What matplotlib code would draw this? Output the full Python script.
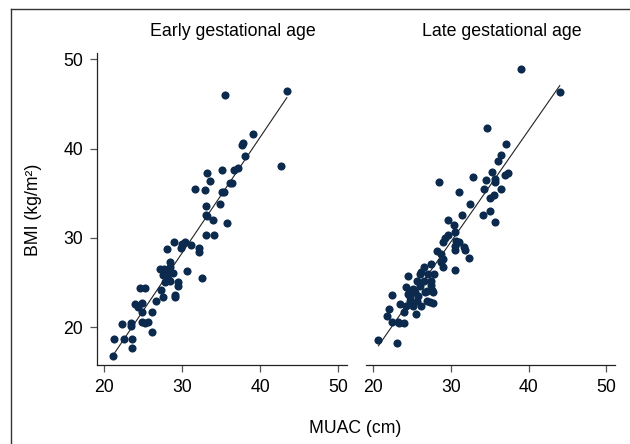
import numpy as np
import matplotlib
matplotlib.use("Agg")
import matplotlib.pyplot as plt
from matplotlib.lines import Line2D

plt.rcParams["font.family"] = ["Liberation Sans", "DejaVu Sans"]

# early gestational age: MUAC (cm), BMI (kg/m2)
early_muac = [35.5, 43.4, 39.1, 37.8, 37.7, 38.1, 42.6, 35.1, 36.6, 37.1,
              33.2, 33.5, 36.1, 36.4, 31.7, 32.9, 35.1, 35.4, 33.1, 34.9,
              33.1, 33.2, 34.0, 35.8, 33.0, 34.1, 29.0, 30.4, 30.0, 29.8,
              31.1, 28.1, 32.2, 32.1, 28.5, 27.2, 27.7, 28.5, 28.8, 28.0,
              27.5, 28.2, 27.8, 28.5, 30.6, 29.5, 29.5, 32.6, 27.3, 24.6,
              25.3, 29.1, 29.1, 27.6, 26.6, 23.9, 24.8, 24.4, 24.9, 26.1,
              22.3, 23.5, 23.5, 24.8, 25.2, 25.6, 26.1, 21.3, 22.6, 23.6,
              23.6, 21.1]
early_bmi = [46.0, 46.4, 41.6, 40.6, 40.4, 39.2, 38.1, 37.6, 37.6, 37.85,
             37.3, 36.4, 36.2, 36.1, 35.5, 35.4, 35.2, 35.2, 33.6, 33.8,
             32.6, 32.5, 32.05, 31.7, 30.3, 30.3, 29.5, 29.6, 29.3, 28.85,
             29.2, 28.8, 28.85, 28.4, 27.3, 26.5, 26.5, 26.8, 26.1, 26.0,
             25.8, 25.4, 25.1, 25.2, 26.3, 25.1, 24.65, 25.5, 24.2, 24.4,
             24.4, 23.6, 23.35, 23.35, 23.0, 22.6, 22.7, 22.3, 21.7, 21.7,
             20.4, 20.5, 20.2, 20.6, 20.5, 20.6, 19.5, 18.7, 18.7, 18.7,
             17.7, 16.8]

# late gestational age
late_muac = [39.0, 44.0, 34.65, 37.1, 36.5, 36.1, 35.3, 32.8, 34.5, 35.7,
             35.7, 37.0, 37.3, 28.5, 34.3, 36.5, 31.1, 35.5, 35.0, 32.5,
             31.5, 34.2, 35.0, 35.7, 29.6, 30.4, 30.5, 29.7, 29.3, 29.0,
             30.7, 31.0, 30.6, 30.6, 31.7, 28.2, 28.8, 29.0, 28.8, 29.0,
             32.3, 30.5, 27.4, 26.5, 26.2, 26.0, 27.1, 27.9, 24.5, 25.6,
             26.6, 27.5, 27.5, 27.6, 24.3, 24.7, 25.4, 24.5, 25.8, 26.7,
             27.0, 26.9, 27.3, 23.5, 24.7, 24.3, 25.2, 26.2, 24.0, 25.5,
             22.4, 22.05, 21.8, 22.4, 23.4, 24.0, 20.7, 23.1, 26.0, 27.7,
             24.7, 25.6, 27.65, 25.2, 23.2, 31.8]
late_bmi = [48.9, 46.3, 42.3, 40.5, 39.25, 38.6, 37.4, 36.8, 36.5, 36.6,
            36.25, 37.1, 37.3, 36.3, 35.5, 35.5, 35.1, 34.8, 34.5, 33.8,
            32.6, 32.6, 33.0, 31.75, 32.05, 31.45, 30.7, 30.3, 30.0, 29.5,
            29.7, 29.6, 29.1, 28.6, 29.0, 28.55, 28.2, 27.7, 27.3, 26.7,
            27.8, 26.4, 27.1, 26.8, 26.15, 25.95, 25.95, 25.95, 25.7, 25.2,
            25.2, 25.2, 24.7, 24.2, 24.5, 24.1, 24.0, 23.7, 23.5, 23.9,
            24.1, 23.0, 22.8, 22.6, 22.9, 22.4, 22.4, 22.4, 21.7, 21.5,
            23.6, 22.0, 21.3, 20.6, 20.5, 20.5, 18.55, 18.2, 24.65, 23.9,
            23.4, 23.0, 22.7, 24.3, 20.55, 28.7]

titles = ["Early gestational age", "Late gestational age"]
xticks = [20, 30, 40, 50]
yticks = [20, 30, 40, 50]

W, H = 630, 444
fig = plt.figure(figsize=(W / 100, H / 100), dpi=100)

def px_box(x0, y0, x1, y1):
    return [x0 / W, 1 - y1 / H, (x1 - x0) / W, (y1 - y0) / H]

ax1 = fig.add_axes(px_box(97, 52.7, 347, 365))
ax2 = fig.add_axes(px_box(366, 52.7, 615, 365))

dot = "#0c2a4d"
for ax, xs, ys, title in [(ax1, early_muac, early_bmi, titles[0]),
                          (ax2, late_muac, late_bmi, titles[1])]:
    xs = np.array(xs)
    ys = np.array(ys)
    ax.scatter(xs, ys, s=34, color=dot, linewidths=0, zorder=3)
    b, a = np.polyfit(xs, ys, 1)
    xl = np.array([xs.min(), xs.max()])
    ax.plot(xl, a + b * xl, color="#222222", linewidth=0.8, zorder=2)

    ax.set_xlim(19.1, 51.1)
    ax.set_ylim(15.78, 50.74)
    ax.set_xticks(xticks)
    ax.set_yticks(yticks)
    ax.tick_params(direction="out", length=5, width=0.9, color="#555555",
                   labelsize=12.7, pad=5)
    ax.spines["top"].set_visible(False)
    ax.spines["right"].set_visible(False)
    for sp in ax.spines.values():
        sp.set_linewidth(0.9)
        sp.set_color("#222222")
    ax.text(0.545, 1.04, title, transform=ax.transAxes, ha="center",
            va="bottom", fontsize=12.8)

ax2.spines["left"].set_visible(False)
ax2.tick_params(axis="y", left=False, labelleft=False)

fig.text(355 / W, 1 - 428 / H, "MUAC (cm)", ha="center", va="center", fontsize=12.7)
fig.text(33 / W, 1 - 210 / H, "BMI (kg/m²)", ha="center", va="center",
         rotation=90, fontsize=12.7)

# outer frame (only top and left edges visible)
fig.add_artist(Line2D([10.5 / W, 10.5 / W], [0, 1 - 9.5 / H], color="#333333", linewidth=1))
fig.add_artist(Line2D([10.5 / W, 1], [1 - 9.5 / H, 1 - 9.5 / H], color="#333333", linewidth=1))

fig.savefig("out.png", dpi=100)
